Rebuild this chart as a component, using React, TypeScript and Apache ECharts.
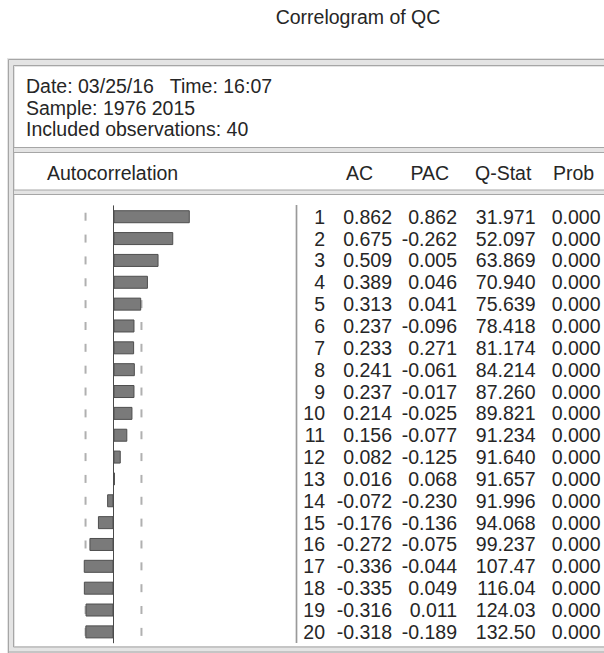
import React, { useEffect, useRef } from "react";
import * as echarts from "echarts";

const lags = ["1","2","3","4","5","6","7","8","9","10","11","12","13","14","15","16","17","18","19","20"];
const acValues = [0.862,0.675,0.509,0.389,0.313,0.237,0.233,0.241,0.237,0.214,0.156,0.082,0.016,-0.072,-0.176,-0.272,-0.336,-0.335,-0.316,-0.318];
const pacValues = [0.862,-0.262,0.005,0.046,0.041,-0.096,0.271,-0.061,-0.017,-0.025,-0.077,-0.125,0.068,-0.230,-0.136,-0.075,-0.044,0.049,0.011,-0.189];
const qStatValues = [31.971,52.097,63.869,70.940,75.639,78.418,81.174,84.214,87.260,89.821,91.234,91.640,91.657,91.996,94.068,99.237,107.47,116.04,124.03,132.50];
const probValues = [0.0,0.0,0.0,0.0,0.0,0.0,0.0,0.0,0.0,0.0,0.0,0.0,0.0,0.0,0.0,0.0,0.0,0.0,0.0,0.0];
const confBound = 0.316;
const headerLines = ["Date: 03/25/16   Time: 16:07", "Sample: 1976 2015", "Included observations: 40"];
const columnHeaders = ["Autocorrelation", "AC", "PAC", "Q-Stat", "Prob"];
const titleText = "Correlogram of QC";

const FONT = '"Liberation Sans", Arial, Helvetica, sans-serif';
const FS = 19.5;
const TXT = "#262626";

const GRID_TOP = 205.8;
const GRID_H = 437;
const GRID_LEFT = 25;
const GRID_W = 177;

function txt(text: string, x: number, y: number, align: string = "left", size: number = FS) {
  return {
    type: "text",
    x,
    y,
    silent: true,
    style: {
      text,
      fill: TXT,
      fontSize: size,
      fontFamily: FONT,
      textAlign: align,
      textVerticalAlign: "middle",
    },
  };
}

function hline(y: number, x1: number, x2: number, color: string, w = 1) {
  return { type: "line", silent: true, shape: { x1, y1: y, x2, y2: y }, style: { stroke: color, lineWidth: w } };
}
function vline(x: number, y1: number, y2: number, color: string, w = 1) {
  return { type: "line", silent: true, shape: { x1: x, y1, x2: x, y2 }, style: { stroke: color, lineWidth: w } };
}
function band(x: number, y: number, width: number, height: number, color: string) {
  return { type: "rect", silent: true, shape: { x, y, width, height }, style: { fill: color } };
}

export default function App() {
  const ref = useRef<HTMLDivElement>(null);
  useEffect(() => {
    if (!ref.current) return;
    document.body.style.margin = "0";
    const chart = echarts.init(ref.current, undefined, { renderer: "svg" });
    const rowH = GRID_H / lags.length;
    const rowY = (i: number) => GRID_TOP + (i + 0.5) * rowH;

    const BAND = "#e4e4e4";
    const LINE = "#a6a6a6";
    const graphics: any[] = [];
    // frame
    graphics.push(band(7, 58, 604, 9, BAND));
    graphics.push(band(7, 58, 8, 595, BAND));
    graphics.push(band(7, 646, 604, 7, BAND));
    graphics.push(hline(59.5, 8.5, 604, LINE));
    graphics.push(hline(65.5, 13.5, 604, LINE));
    graphics.push(vline(8.5, 59.5, 653, LINE));
    graphics.push(vline(13.5, 65.5, 647, LINE));
    graphics.push(hline(647, 13.5, 604, LINE));
    graphics.push(hline(652, 8.5, 604, LINE));
    // separators
    graphics.push(band(14, 147.5, 590, 5, BAND));
    graphics.push(hline(147.5, 14, 604, LINE));
    graphics.push(hline(152.5, 14, 604, LINE));
    graphics.push(band(14, 190, 590, 4.5, BAND));
    graphics.push(hline(190, 14, 604, LINE));
    graphics.push(hline(194.5, 14, 604, LINE));
    // table vertical separator
    graphics.push(band(295, 205, 3, 438, "#dcdcdc"));
    graphics.push(vline(296.5, 205, 643, "#9a9a9a", 1));

    // texts
    graphics.push(txt(titleText, 358, 17.2, "center"));
    const headerY = [86, 107.5, 129];
    headerLines.forEach((t, i) => graphics.push(txt(t, 26, headerY[i])));
    const colHeaderX = [47, 346, 410.5, 475, 553];
    columnHeaders.forEach((t, i) => graphics.push(txt(t, colHeaderX[i], 172.5)));

    lags.forEach((lag, i) => {
      const y = rowY(i);
      graphics.push(txt(lag, 325, y, "right"));
      graphics.push(txt(acValues[i].toFixed(3), 392, y, "right"));
      graphics.push(txt(pacValues[i].toFixed(3), 457, y, "right"));
      graphics.push(txt(qStatValues[i].toPrecision(5), 535.5, y, "right"));
      graphics.push(txt(probValues[i].toFixed(3), 600.5, y, "right"));
    });

    const confData: any[] = [];
    lags.forEach((lag) => {
      confData.push([confBound, lag]);
      confData.push([-confBound, lag]);
    });

    chart.setOption({
      animation: false,
      backgroundColor: "#ffffff",
      grid: { left: GRID_LEFT, top: GRID_TOP, width: GRID_W, height: GRID_H, containLabel: false },
      xAxis: { type: "value", min: -1, max: 1, show: false },
      yAxis: {
        type: "category",
        data: lags,
        inverse: true,
        axisLine: { show: true, onZero: true, lineStyle: { color: "#4a4a4a", width: 1 } },
        axisTick: { show: false },
        axisLabel: { show: false },
        splitLine: { show: false },
      },
      series: [
        {
          type: "scatter",
          data: confData,
          symbol: "rect",
          symbolSize: [2, 8],
          itemStyle: { color: "#9c9c9c" },
          silent: true,
          z: 1,
        },
        {
          type: "bar",
          data: acValues,
          barWidth: 13,
          itemStyle: { color: "#7a7a7a", borderColor: "#4e4e4e", borderWidth: 1 },
          silent: true,
          z: 3,
        },
      ],
      graphic: graphics,
    });
    return () => chart.dispose();
  }, []);
  return <div ref={ref} style={{ position: "absolute", left: 0, top: 0, width: 604, height: 653, background: "#fff" }} />;
}
